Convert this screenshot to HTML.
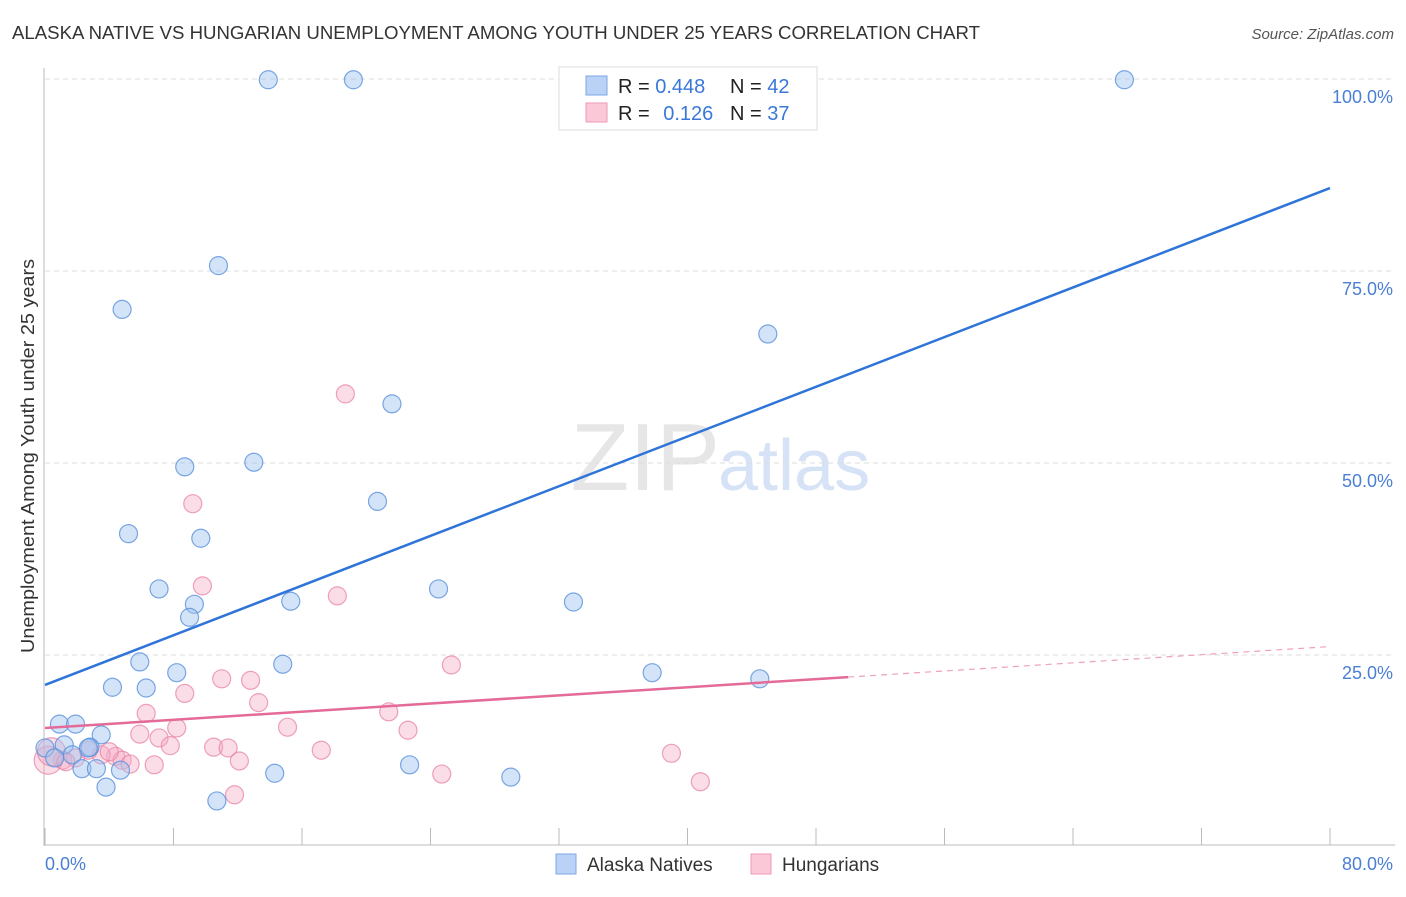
<!DOCTYPE html>
<html><head><meta charset="utf-8"><style>
body{margin:0;background:#fff;font-family:"Liberation Sans",sans-serif;}
svg text{font-family:"Liberation Sans",sans-serif;}
</style></head><body>
<svg id="chart" width="1406" height="892">
<text x="12" y="39" font-size="18" fill="#333" textLength="968" lengthAdjust="spacingAndGlyphs">ALASKA NATIVE VS HUNGARIAN UNEMPLOYMENT AMONG YOUTH UNDER 25 YEARS CORRELATION CHART</text>
<text x="1394" y="39" font-size="15" fill="#555" font-style="italic" text-anchor="end">Source: ZipAtlas.com</text>
<text x="720" y="490" font-size="96" fill="#e6e6e6" font-family="Liberation Serif" text-anchor="end">ZIP</text>
<text x="718" y="490" font-size="72" fill="#d6e2f5">atlas</text>
<g id="grid"></g>
<g id="axes"></g>
<g id="marks"></g>
<text transform="translate(34,456) rotate(-90)" font-size="18" fill="#333" text-anchor="middle" textLength="394" lengthAdjust="spacingAndGlyphs">Unemployment Among Youth under 25 years</text>
<text x="45" y="870" font-size="18" fill="#4a7fd4">0.0%</text>
<text x="1393" y="870" font-size="18" fill="#4a7fd4" text-anchor="end">80.0%</text>
<g>
<rect x="559" y="67" width="258" height="63" fill="#fff" stroke="#ddd"/>
<rect x="586" y="76" width="21" height="19" fill="#b9d2f5" stroke="#7aa7e6"/>
<rect x="586" y="103" width="21" height="19" fill="#fac8d7" stroke="#ee9ab8"/>
<text x="618" y="93" font-size="20" fill="#222">R = <tspan fill="#3a78d8">0.448</tspan></text>
<text x="730" y="93" font-size="20" fill="#222">N = <tspan fill="#3a78d8">42</tspan></text>
<text x="618" y="120" font-size="20" fill="#222">R = <tspan fill="#3a78d8" dx="8">0.126</tspan></text>
<text x="730" y="120" font-size="20" fill="#222">N = <tspan fill="#3a78d8">37</tspan></text>
</g>
<g>
<rect x="556" y="854" width="20" height="20" fill="#b9d2f5" stroke="#7aa7e6"/>
<text x="587" y="871" font-size="19" fill="#333">Alaska Natives</text>
<rect x="751" y="854" width="20" height="20" fill="#fac8d7" stroke="#ee9ab8"/>
<text x="782" y="871" font-size="19" fill="#333">Hungarians</text>
</g>
</svg>
<script>
const yTicks=[25,50,75,100];
const yTickLabels=["25.0%","50.0%","75.0%","100.0%"];
const xTicks=[0,8,16,24,32,40,48,56,64,72,80];
const alaskaX=[13.9,19.2,67.2,10.8,4.8,45,21.6,8.7,13,20.7,5.2,9.7,7.1,24.5,9.3,15.3,32.9,9,5.9,14.8,8.2,37.8,44.5,4.2,6.3,0.9,1.9,3.5,1.2,2.8,0,2.7,1.7,0.6,2.3,3.2,4.7,22.7,14.3,29,3.8,10.7];
const alaskaY=[99.9,99.9,99.9,75.7,70,66.8,57.7,49.5,50.1,45,40.8,40.2,33.6,33.6,31.6,32,31.9,29.9,24.1,23.8,22.7,22.7,21.9,20.8,20.7,16,16,14.6,13.3,13,12.9,12.9,12,11.6,10.2,10.2,10,10.7,9.6,9.1,7.8,6];
const hungX=[18.7,9.2,9.8,18.2,25.3,11,12.8,8.7,13.3,6.3,21.4,15.1,8.2,22.6,5.9,7.1,7.8,10.5,11.4,17.2,39,4.4,3.5,4.8,12.1,5.3,6.8,1.1,0.2,1.9,24.7,40.8,11.8,2.7,0.4,1.3,4];
const hungY=[59,44.7,34,32.7,23.7,21.9,21.7,20,18.8,17.4,17.6,15.6,15.5,15.2,14.7,14.2,13.2,13,12.9,12.6,12.2,11.8,12,11.3,11.2,10.8,10.7,11.3,11.3,11.6,9.5,8.5,6.8,12.6,12.4,11.1,12.4];
const alaskaLine=[21.1,85.8];
const hungLine=[15.5,26.1];
const hungSolidEnd=50;
const NS="http://www.w3.org/2000/svg";
const X=v=>45+v*1285/80, Y=v=>847-v*7.68;
function mk(tag,attrs,parent){const e=document.createElementNS(NS,tag);for(const k in attrs)e.setAttribute(k,attrs[k]);document.getElementById(parent).appendChild(e);return e;}
yTicks.forEach((t,i)=>{
 const g=mk('line',{x1:45,x2:1395,y1:Y(t),y2:Y(t),stroke:'#ddd','stroke-dasharray':'5,4'},'grid');
 
 
 const l=mk('text',{x:1393,y:Y(t)+24,'font-size':18,fill:'#4a7fd4','text-anchor':'end'},'grid');
 l.textContent=yTickLabels[i];
 
 
});
let a=mk('line',{x1:44,x2:44,y1:68,y2:846,stroke:'#bbb'},'axes');


a=mk('line',{x1:44,x2:1395,y1:845,y2:845,stroke:'#bbb'},'axes');


xTicks.forEach(t=>{
 const e=mk('line',{x1:X(t),x2:X(t),y1:828,y2:845,stroke:'#bbb'},'axes');
 
 
});
hungX.forEach((v,i)=>{
 const c=mk('circle',{cx:X(v),cy:Y(hungY[i]),r:(v<0.5?14:9),fill:'rgba(245,170,195,0.4)',stroke:'rgba(232,130,168,0.75)','stroke-width':1.2},'marks');
 
 
});
alaskaX.forEach((v,i)=>{
 const c=mk('circle',{cx:X(v),cy:Y(alaskaY[i]),r:9,fill:'rgba(160,195,240,0.45)',stroke:'rgba(90,145,220,0.8)','stroke-width':1.2},'marks');
 
 
});
const hAt=v=>hungLine[0]+(hungLine[1]-hungLine[0])*v/80;
let ln=mk('line',{x1:X(0),y1:Y(alaskaLine[0]),x2:X(80),y2:Y(alaskaLine[1]),stroke:'#2f74d8','stroke-width':2.5},'marks');


ln=mk('line',{x1:X(0),y1:Y(hAt(0)),x2:X(hungSolidEnd),y2:Y(hAt(hungSolidEnd)),stroke:'#e46a98','stroke-width':2.5},'marks');


ln=mk('line',{x1:X(hungSolidEnd),y1:Y(hAt(hungSolidEnd)),x2:X(80),y2:Y(hAt(80)),stroke:'#eea0bd','stroke-width':1.2,'stroke-dasharray':'6,5'},'marks');


</script>
</body></html>
